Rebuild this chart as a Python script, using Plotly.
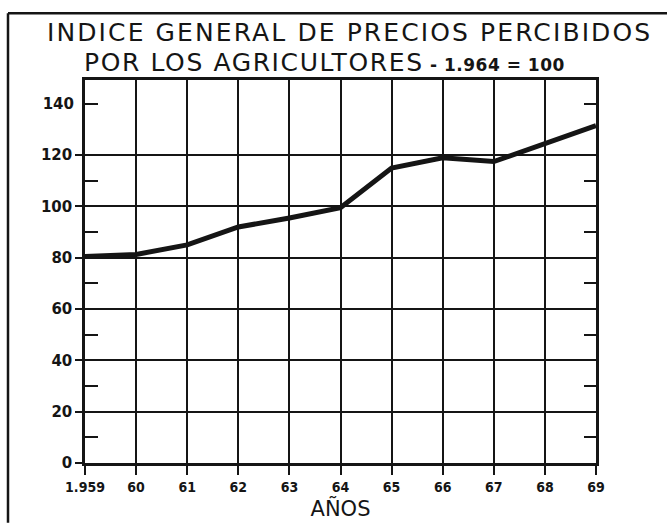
import plotly.graph_objects as go

# ---- data ----
years = [1959, 1960, 1961, 1962, 1963, 1964, 1965, 1966, 1967, 1968, 1969]
year_labels = ["1.959", "60", "61", "62", "63", "64", "65", "66", "67", "68", "69"]
index_values = [80.5, 81.3, 85, 92, 95.5, 99.5, 115, 119, 117.5, 124.5, 131.5]
y_major = [0, 20, 40, 60, 80, 100, 120]
y_major_labels = ["0", "20", "40", "60", "80", "100", "120"]
y_extra = [140]
y_extra_labels = ["140"]
y_minor = [10, 30, 50, 70, 90, 110, 140]

title_line1 = "INDICE GENERAL DE PRECIOS PERCIBIDOS"
title_line2 = "POR LOS AGRICULTORES"
title_base = "- 1.964 = 100"
x_title = "AÑOS"

INK = "#151515"
W, H = 667, 525
L, R, T, B = 85, 71, 80, 60
YMAX = 149.3

fig = go.Figure()
fig.add_trace(go.Scatter(x=years, y=index_values, mode="lines",
                         line=dict(color=INK, width=5), showlegend=False))

fig.update_layout(
    width=W, height=H,
    margin=dict(l=L, r=R, t=T, b=B, pad=0),
    paper_bgcolor="white", plot_bgcolor="white",
    font=dict(family="DejaVu Sans", color=INK),
    xaxis=dict(
        range=[1959, 1969], tickvals=years, ticktext=year_labels,
        showgrid=True, gridcolor=INK, gridwidth=1.5,
        showline=True, linecolor=INK, linewidth=2.5, mirror=True,
        ticks="outside", ticklen=9, tickwidth=1.5, tickcolor=INK,
        tickfont=dict(family="DejaVu Sans Condensed", size=14, weight="bold", color=INK),
        zeroline=False,
        title=dict(text=x_title, font=dict(family="DejaVu Sans", size=21, color=INK), standoff=4),
    ),
    yaxis=dict(
        range=[0, YMAX], tickvals=y_major, ticktext=y_major_labels,
        showgrid=True, gridcolor=INK, gridwidth=1.5,
        showline=True, linecolor=INK, linewidth=2.5, mirror=True,
        ticks="outside", ticklen=7, tickwidth=1.5, tickcolor=INK,
        tickfont=dict(family="DejaVu Sans", size=15, weight="bold", color=INK),
        zeroline=False,
        minor=dict(tickvals=y_minor, ticks="inside", ticklen=13, tickwidth=1.5,
                   tickcolor=INK, showgrid=False),
    ),
    yaxis2=dict(
        range=[0, YMAX], overlaying="y", side="left", tickvals=y_extra, ticktext=y_extra_labels,
        showgrid=False, showline=False, zeroline=False, ticks="outside", ticklen=7,
        tickcolor="rgba(0,0,0,0)",
        tickfont=dict(family="DejaVu Sans", size=15, weight="bold", color=INK),
    ),
    yaxis3=dict(
        range=[0, YMAX], overlaying="y", side="right", tickvals=y_minor,
        showticklabels=False, showgrid=False, showline=False, zeroline=False,
        ticks="inside", ticklen=12, tickwidth=1.5, tickcolor=INK,
    ),
)
# invisible traces to activate overlay axes
fig.add_trace(go.Scatter(x=[years[0]], y=[0], yaxis="y2", mode="markers",
                         marker=dict(opacity=0), showlegend=False, hoverinfo="skip"))
fig.add_trace(go.Scatter(x=[years[0]], y=[0], yaxis="y3", mode="markers",
                         marker=dict(opacity=0), showlegend=False, hoverinfo="skip"))

pw, ph = W - L - R, H - T - B
def px(x): return (x - L) / pw
def py(y): return (H - B - y) / ph

fig.add_annotation(xref="paper", yref="paper", x=px(45), y=py(32), xanchor="left", yanchor="middle",
                   text="<span style='letter-spacing:2.1px'>" + title_line1 + "</span>", showarrow=False,
                   font=dict(family="DejaVu Sans", size=25, color=INK))
fig.add_annotation(xref="paper", yref="paper", x=px(82), y=py(62), xanchor="left", yanchor="middle",
                   text="<span style='letter-spacing:1.6px'>" + title_line2 + "</span>"
                        + "<span style='font-size:17px;font-weight:bold;letter-spacing:0.5px'> " + title_base + "</span>",
                   showarrow=False, font=dict(family="DejaVu Sans", size=25, color=INK))

# outer frame of the original drawing
fig.add_shape(type="line", xref="paper", yref="paper", x0=px(8), x1=px(8), y0=py(525), y1=py(13),
              line=dict(color=INK, width=2.5))
fig.add_shape(type="line", xref="paper", yref="paper", x0=px(8), x1=px(667), y0=py(13), y1=py(13),
              line=dict(color=INK, width=2.5))

fig.write_html("out.html", config={"displayModeBar": False},
               post_script="document.body.style.margin='0';document.body.style.overflow='hidden';")
